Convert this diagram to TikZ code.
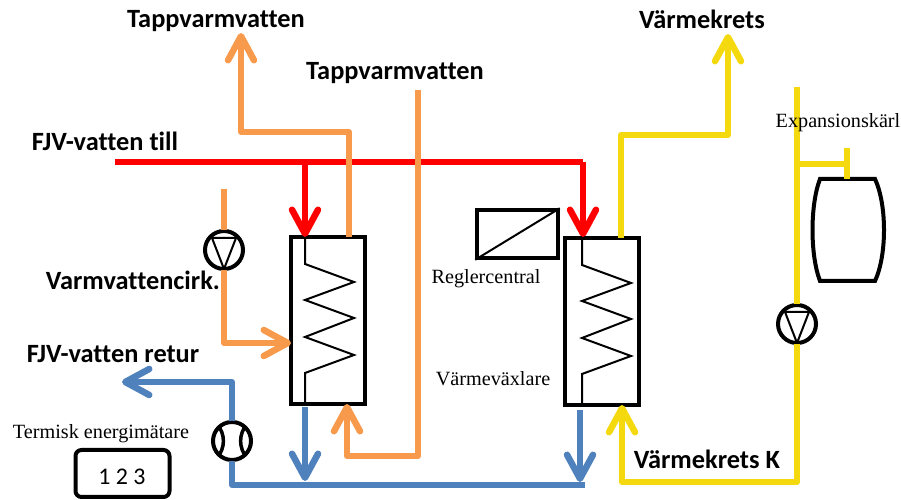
\documentclass[tikz,border=0pt]{standalone}
\usepackage{fontspec}
\setmainfont{Liberation Serif}
\newfontfamily\labelfont[Ligatures=NoCommon]{Carlito}
\usetikzlibrary{arrows.meta}
\definecolor{tapporange}{HTML}{F89A4C}
\definecolor{retblue}{HTML}{4F81BD}
\definecolor{krets}{HTML}{F4D90F}
\tikzset{
  pipe/.style={line width=0.06cm,line join=round},
  arr/.style={-{Straight Barb[round,length=0.24cm,width=0.26cm,line width=0.065cm]}},
  coil/.style={draw=black,line width=0.02cm},
  hx/.style={draw,line width=0.04cm,minimum width=0.74cm,minimum height=1.67cm,inner sep=0pt,outer sep=0pt},
  pump/.style={circle,draw,line width=0.04cm,minimum size=0.38cm,inner sep=0pt,outer sep=0.01cm,
    path picture={\draw[coil,shift={(path picture bounding box.center)}] (-0.12,0.12)--(0.12,0.12)--(0,-0.19)--cycle;}},
  meter/.style={circle,draw,line width=0.04cm,minimum size=0.38cm,inner sep=0pt,outer sep=0.01cm,
    path picture={\draw[line width=0.035cm,shift={(path picture bounding box.center)}]
      (-0.15,0.17) to[bend left=40] (-0.15,-0.17) (0.15,0.17) to[bend right=40] (0.15,-0.17);}},
  bold/.style={font=\labelfont\bfseries\fontsize{7.5}{8}\selectfont,inner sep=0pt},
  serif/.style={font=\fontsize{5.75}{7}\selectfont,inner sep=0pt}
}
\newcommand{\hxcoil}[2]{%
  \draw[coil,shift={(#1.center)}] (#2,0.835)--(#2,0.565)--(#2+0.49,0.385)--(#2,0.205)--(#2+0.49,0.025)
    --(#2,-0.165)--(#2+0.49,-0.345)--(#2,-0.525)--(#2,-0.835);}
\begin{document}
\begin{tikzpicture}
  \useasboundingbox (0,0) rectangle (9.01,5);
  % Apparatus
  \node[hx] (hxa) at (3.28,1.795) {};
  \node[hx] (hxb) at (6.02,1.785) {};
  \hxcoil{hxa}{-0.23}
  \hxcoil{hxb}{-0.20}
  \node[pump] (pumpa) at (2.24,2.50) {};
  \node[pump] (pumpb) at (7.97,1.76) {};
  \node[meter] (flow) at (2.32,0.59) {};
  \node[draw,line width=0.035cm,minimum width=0.81cm,minimum height=0.48cm,inner sep=0pt] (ctrl) at (5.175,2.66) {};
  \draw[coil] (ctrl.south west)--(ctrl.north east);
  \node[draw,line width=0.04cm,rounded corners=0.06cm,minimum width=0.94cm,minimum height=0.47cm,inner sep=0pt] (disp) at (1.225,0.265) {};
  \draw[line width=0.04cm] (8.20,3.21) .. controls (8.10,2.95) and (8.10,2.45) .. (8.20,2.19)
    -- (8.75,2.19) .. controls (8.87,2.45) and (8.87,2.95) .. (8.75,3.21) -- cycle;
  % Supply line
  \coordinate (redstart) at (1.15,3.38);
  \coordinate (redjoin) at (3.05,3.38);
  \coordinate (redend) at (5.83,3.38);
  \draw[pipe,red] (redstart)--(redend);
  \draw[pipe,red,arr] (redjoin)--(hxa.north -| redjoin);
  \draw[pipe,red,arr] (redend)--(hxa.north -| redend);
  % Hot tap water
  \coordinate (tapa) at (3.49,3.68);
  \coordinate (tapb) at (2.41,3.68);
  \coordinate (tapc) at (2.41,4.67);
  \coordinate (tapin) at (4.18,4.10);
  \coordinate (tapd) at (4.18,0.44);
  \coordinate (tape) at (3.47,0.44);
  \draw[pipe,tapporange,arr] (tapa |- hxa.north)--(tapa)--(tapb)--(tapc);
  \draw[pipe,tapporange,arr] (tapin)--(tapd)--(tape)--(tape |- hxa.south);
  % Circulation
  \coordinate (circtop) at (2.24,3.11);
  \coordinate (circa) at (2.24,1.57);
  \draw[pipe,tapporange] (circtop)--(pumpa);
  \draw[pipe,tapporange,arr] (pumpa)--(circa)--(hxa.west |- circa);
  % Return line
  \coordinate (reta) at (2.32,0.15);
  \coordinate (retb) at (5.85,0.15);
  \coordinate (retc) at (2.32,1.18);
  \coordinate (retd) at (1.22,1.18);
  \coordinate (hxaout) at (3.05,0.93);
  \coordinate (hxbout) at (5.80,0.90);
  \coordinate (hxajoin) at (3.05,0.19);
  \coordinate (hxbjoin) at (5.80,0.18);
  \draw[pipe,retblue] (flow)--(reta)--(retb);
  \draw[pipe,retblue,arr] (flow)--(retc)--(retd);
  \draw[pipe,retblue,arr] (hxaout)--(hxajoin);
  \draw[pipe,retblue,arr] (hxbout)--(hxbjoin);
  % Heating circuit
  \coordinate (krea) at (6.21,3.65);
  \coordinate (kreb) at (7.28,3.65);
  \coordinate (krec) at (7.28,4.66);
  \coordinate (kred) at (7.97,4.13);
  \coordinate (kree) at (7.97,0.18);
  \coordinate (kref) at (6.22,0.18);
  \coordinate (kreg) at (7.97,3.36);
  \coordinate (kreh) at (8.47,3.36);
  \coordinate (krei) at (8.47,3.52);
  \coordinate (krej) at (8.47,3.21);
  \draw[pipe,krets,arr] (krea |- hxb.north)--(krea)--(kreb)--(krec);
  \draw[pipe,krets] (kred)--(pumpb);
  \draw[pipe,krets,arr] (pumpb)--(kree)--(kref)--(kref |- hxb.south);
  \draw[pipe,krets] (kreg)--(kreh);
  \draw[pipe,krets] (krei)--(krej);
  % Labels
  \node[bold] (ltapa) at (2.16,4.79) {Tappvarmvatten};
  \node[bold] (ltapb) at (3.95,4.27) {Tappvarmvatten};
  \node[bold] (lkrets) at (7.02,4.81) {Värmekrets};
  \node[bold] (ltill) at (1.05,3.59) {FJV-vatten till};
  \node[bold] (lcirk) at (1.33,2.20) {Varmvattencirk.};
  \node[bold] (lretur) at (1.13,1.46) {FJV-vatten retur};
  \node[bold] (lkretsk) at (7.07,0.41) {Värmekrets K};
  \node[serif] (lexp) at (8.38,3.77) {Expansionskärl};
  \node[serif] (lreg) at (4.86,2.21) {Reglercentral};
  \node[serif] (lvvx) at (4.93,1.21) {Värmeväxlare};
  \node[serif] (lterm) at (1.01,0.66) {Termisk energimätare};
  \node[font=\labelfont\fontsize{6.8}{8}\selectfont,inner sep=0pt] (lnum) at (1.22,0.23) {1 2 3};
\end{tikzpicture}
\end{document}
